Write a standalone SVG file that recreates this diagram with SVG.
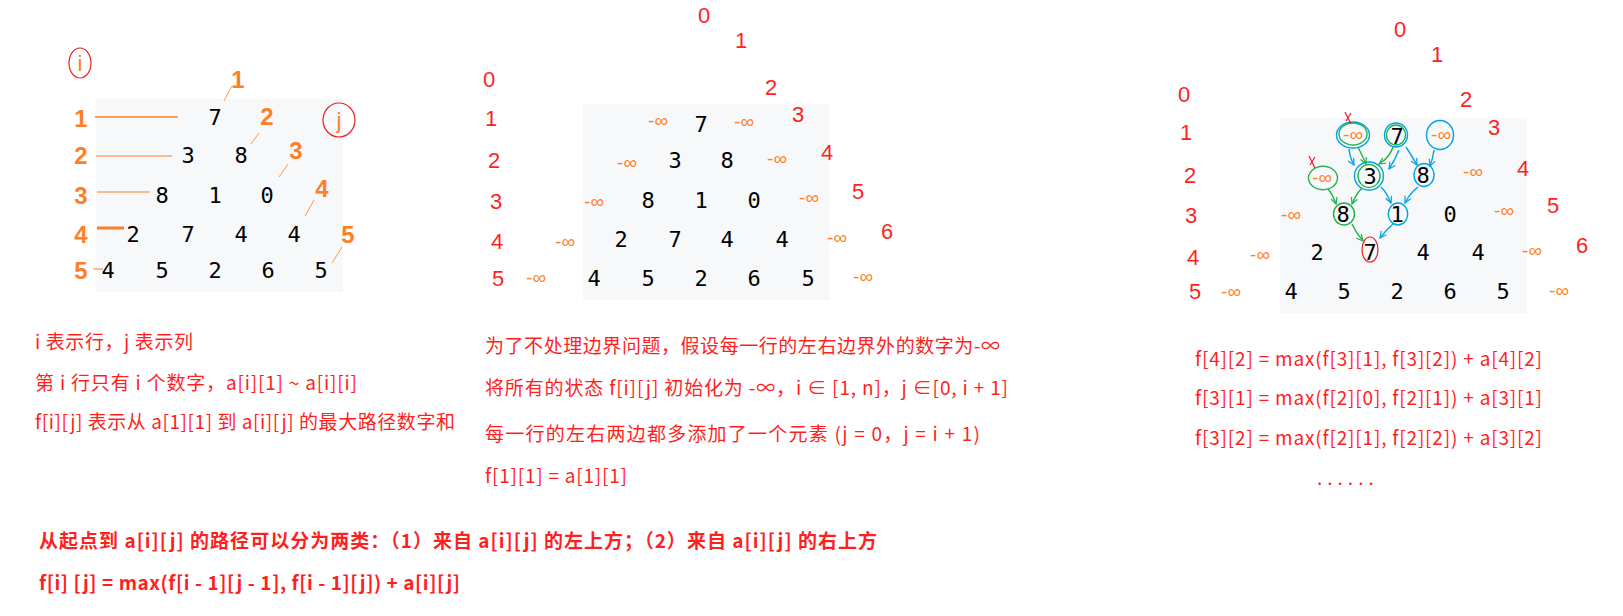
<svg xmlns="http://www.w3.org/2000/svg" width="1623" height="616" viewBox="0 0 1623 616">
<defs>
<style>
.bg{fill:#f6f8fa}
.num{font-family:"DejaVu Sans Mono",monospace;font-size:22px;fill:#000;text-anchor:middle}
.idx{font-family:"Liberation Sans",Arial,sans-serif;font-size:22px;fill:#ff1f1f;text-anchor:middle}
.inf{font-family:"Liberation Sans",Arial,sans-serif;font-size:19px;fill:#ff7f27;text-anchor:middle}
.olab{font-family:"Liberation Sans",Arial,sans-serif;font-size:24px;font-weight:bold;fill:#ff7f27;text-anchor:middle}
.txt{font-family:"Noto Sans CJK SC","Noto Sans",sans-serif;font-size:19px;fill:#ff1f1f}
.btxt{font-family:"Noto Sans CJK SC","Noto Sans",sans-serif;font-size:19px;font-weight:bold;fill:#ff1f1f}
.oline{stroke:#ff7f27;fill:none}
.blue{stroke:#00a2e8;stroke-width:1.4;fill:none}
.green{stroke:#22b14c;stroke-width:1.4;fill:none}
.redc{stroke:#ed1c24;stroke-width:1.2;fill:none}
</style>
<marker id="ab" viewBox="0 0 10 10" refX="9" refY="5" markerWidth="8" markerHeight="8" orient="auto" markerUnits="userSpaceOnUse"><path d="M1,1 L9,5 L1,9" fill="none" stroke="#00a2e8" stroke-width="1.5"/></marker>
<marker id="ag" viewBox="0 0 10 10" refX="9" refY="5" markerWidth="8" markerHeight="8" orient="auto" markerUnits="userSpaceOnUse"><path d="M1,1 L9,5 L1,9" fill="none" stroke="#22b14c" stroke-width="1.5"/></marker>
</defs>
<rect width="1623" height="616" fill="#fff"/>

<!-- Panel 1 -->
<g id="panel1">
<rect class="bg" x="96" y="99" width="247" height="193"/>
<g id="p1-i"><ellipse cx="80" cy="63" rx="11" ry="15" class="redc"/><text x="80" y="71" class="inf" style="font-size:22px">i</text></g>
<g id="p1-j"><ellipse cx="339" cy="120" rx="16" ry="17" class="redc"/><text x="339" y="128" class="inf" style="font-size:22px">j</text></g>
<text class="olab" x="81" y="127">1</text>
<text class="olab" x="81" y="164">2</text>
<text class="olab" x="81" y="204">3</text>
<text class="olab" x="81" y="243">4</text>
<text class="olab" x="81" y="279">5</text>
<line class="oline" x1="95" y1="117" x2="178" y2="117" stroke-width="1.6"/>
<line class="oline" x1="96" y1="156" x2="172" y2="156" stroke-width="1"/>
<line class="oline" x1="97" y1="192" x2="150" y2="192" stroke-width="1"/>
<line class="oline" x1="97" y1="228" x2="124" y2="228" stroke-width="3"/>
<line class="oline" x1="93" y1="269" x2="103" y2="269" stroke-width="1"/>
<text class="olab" x="238" y="88">1</text>
<text class="olab" x="267" y="125">2</text>
<text class="olab" x="296" y="159">3</text>
<text class="olab" x="322" y="197">4</text>
<text class="olab" x="348" y="243">5</text>
<line class="oline" x1="224" y1="101" x2="232" y2="86" stroke-width="0.8"/>
<line class="oline" x1="251" y1="144" x2="259" y2="133" stroke-width="0.8"/>
<line class="oline" x1="279" y1="177" x2="288" y2="164" stroke-width="0.8"/>
<line class="oline" x1="305" y1="216" x2="314" y2="200" stroke-width="0.8"/>
<line class="oline" x1="332" y1="263" x2="342" y2="247" stroke-width="0.8"/>
<text class="num" x="215" y="125">7</text>
<text class="num" x="188" y="163">3</text><text class="num" x="241" y="163">8</text>
<text class="num" x="162" y="203">8</text><text class="num" x="215" y="203">1</text><text class="num" x="267" y="203">0</text>
<text class="num" x="133" y="242">2</text><text class="num" x="188" y="242">7</text><text class="num" x="241" y="242">4</text><text class="num" x="294" y="242">4</text>
<text class="num" x="108" y="278">4</text><text class="num" x="162" y="278">5</text><text class="num" x="215" y="278">2</text><text class="num" x="268" y="278">6</text><text class="num" x="321" y="278">5</text>
<text class="txt" x="35" y="349" textLength="158">i 表示行，j 表示列</text>
<text class="txt" x="35" y="390" textLength="322">第 i 行只有 i 个数字，a[i][1] ~ a[i][i]</text>
<text class="txt" x="35" y="429" textLength="420">f[i][j] 表示从 a[1][1] 到 a[i][j] 的最大路径数字和</text>
</g>

<!-- Panel 2 -->
<g id="panel2">
<rect class="bg" x="583" y="104" width="247" height="196"/>
<text class="idx" x="704" y="23">0</text>
<text class="idx" x="741" y="48">1</text>
<text class="idx" x="771" y="95">2</text>
<text class="idx" x="798" y="122">3</text>
<text class="idx" x="827" y="160">4</text>
<text class="idx" x="858" y="199">5</text>
<text class="idx" x="887" y="239">6</text>
<text class="idx" x="489" y="87">0</text>
<text class="idx" x="491" y="126">1</text>
<text class="idx" x="494" y="168">2</text>
<text class="idx" x="496" y="209">3</text>
<text class="idx" x="497" y="249">4</text>
<text class="idx" x="498" y="286">5</text>
<text class="num" x="701" y="132">7</text>
<text class="num" x="675" y="168">3</text><text class="num" x="727" y="168">8</text>
<text class="num" x="648" y="208">8</text><text class="num" x="701" y="208">1</text><text class="num" x="754" y="208">0</text>
<text class="num" x="621" y="247">2</text><text class="num" x="675" y="247">7</text><text class="num" x="727" y="247">4</text><text class="num" x="782" y="247">4</text>
<text class="num" x="594" y="286">4</text><text class="num" x="648" y="286">5</text><text class="num" x="701" y="286">2</text><text class="num" x="754" y="286">6</text><text class="num" x="808" y="286">5</text>
<text class="inf" x="658" y="127">-∞</text><text class="inf" x="744" y="128">-∞</text>
<text class="inf" x="627" y="169">-∞</text><text class="inf" x="777" y="165">-∞</text>
<text class="inf" x="594" y="208">-∞</text><text class="inf" x="809" y="204">-∞</text>
<text class="inf" x="565" y="248">-∞</text><text class="inf" x="837" y="244">-∞</text>
<text class="inf" x="536" y="284">-∞</text><text class="inf" x="863" y="283">-∞</text>
<text class="txt" x="485" y="353" textLength="515">为了不处理边界问题，假设每一行的左右边界外的数字为-∞</text>
<text class="txt" x="485" y="395" textLength="523">将所有的状态 f[i][j] 初始化为 -∞，i ∈ [1, n]，j ∈[0, i + 1]</text>
<text class="txt" x="485" y="441" textLength="495">每一行的左右两边都多添加了一个元素 (j = 0，j = i + 1)</text>
<text class="txt" x="485" y="483" textLength="142">f[1][1] = a[1][1]</text>
</g>

<!-- Panel 3 -->
<g id="panel3">
<rect class="bg" x="1280" y="118" width="247" height="195"/>
<text class="idx" x="1400" y="37">0</text>
<text class="idx" x="1437" y="62">1</text>
<text class="idx" x="1466" y="107">2</text>
<text class="idx" x="1494" y="135">3</text>
<text class="idx" x="1523" y="176">4</text>
<text class="idx" x="1553" y="213">5</text>
<text class="idx" x="1582" y="253">6</text>
<text class="idx" x="1184" y="102">0</text>
<text class="idx" x="1186" y="140">1</text>
<text class="idx" x="1190" y="183">2</text>
<text class="idx" x="1191" y="223">3</text>
<text class="idx" x="1193" y="265">4</text>
<text class="idx" x="1195" y="299">5</text>
<text class="num" x="1423" y="183">8</text>
<text class="num" x="1450" y="222">0</text>
<text class="num" x="1317" y="260">2</text><text class="num" x="1423" y="260">4</text><text class="num" x="1478" y="260">4</text>
<text class="num" x="1291" y="299">4</text><text class="num" x="1344" y="299">5</text><text class="num" x="1397" y="299">2</text><text class="num" x="1450" y="299">6</text><text class="num" x="1503" y="299">5</text>
<text class="inf" x="1473" y="178">-∞</text>
<text class="inf" x="1291" y="221">-∞</text><text class="inf" x="1504" y="217">-∞</text>
<text class="inf" x="1260" y="261">-∞</text><text class="inf" x="1532" y="257">-∞</text>
<text class="inf" x="1231" y="298">-∞</text><text class="inf" x="1559" y="297">-∞</text>

<g id="n-inf-1-0"><ellipse cx="1353" cy="135" rx="16.5" ry="13" class="blue"/><ellipse cx="1353" cy="134" rx="14" ry="11" class="green"/><text class="inf" x="1353" y="141">-∞</text></g>
<g id="n-7-1-1"><ellipse cx="1396" cy="135" rx="11.5" ry="12" class="blue"/><ellipse cx="1396" cy="135" rx="9.5" ry="10" class="green"/><text class="num" x="1397" y="144">7</text></g>
<g id="n-inf-1-2"><ellipse cx="1440" cy="135" rx="13.5" ry="14.5" class="blue"/><text class="inf" x="1441" y="141">-∞</text></g>
<g id="n-inf-2-0"><ellipse cx="1323" cy="178" rx="14.5" ry="11.7" class="green"/><text class="inf" x="1322" y="184">-∞</text></g>
<g id="n-3-2-1"><ellipse cx="1369" cy="176" rx="14.5" ry="14" class="blue"/><ellipse cx="1369" cy="176" rx="11" ry="11.5" class="green"/><text class="num" x="1370" y="184">3</text></g>
<g id="n-8-2-2"><ellipse cx="1424" cy="175" rx="10" ry="11.5" class="blue"/></g>
<g id="n-8-3-1"><ellipse cx="1344" cy="214" rx="10.5" ry="11" class="green"/><text class="num" x="1343" y="222">8</text></g>
<g id="n-1-3-2"><ellipse cx="1398" cy="214" rx="9.7" ry="11" class="blue"/><text class="num" x="1397" y="222">1</text></g>
<g id="n-7-4-2"><ellipse cx="1370" cy="249.5" rx="8" ry="12.5" class="redc"/><text class="num" x="1370" y="260">7</text></g>
<g id="marks" stroke="#ed1c24" stroke-width="1.2" fill="none">
<path d="M1345,112 L1351,124 M1351,113 L1346,121"/>
<path d="M1309,156 L1315,168 M1315,157 L1310,165"/>
</g>
<text class="txt" x="1195" y="366" textLength="347">f[4][2] = max(f[3][1], f[3][2]) + a[4][2]</text>
<text class="txt" x="1195" y="405" textLength="347">f[3][1] = max(f[2][0], f[2][1]) + a[3][1]</text>
<text class="txt" x="1195" y="445" textLength="347">f[3][2] = max(f[2][1], f[2][2]) + a[3][2]</text>
<text class="txt" x="1317" y="485" style="letter-spacing:5px">......</text>
</g>

<g id="connectors">
<path class="blue" d="M1349,149 Q1350,158 1354,165" marker-end="url(#ab)"/>
<path class="blue" d="M1399,150 Q1395,160 1389,169" marker-end="url(#ab)"/>
<path class="blue" d="M1406,147 Q1412,156 1417,165" marker-end="url(#ab)"/>
<path class="blue" d="M1434,150 Q1433,158 1430,166" marker-end="url(#ab)"/>
<path class="blue" d="M1381,187 Q1387,193 1391,203" marker-end="url(#ab)"/>
<path class="blue" d="M1418,187 Q1410,193 1405,203" marker-end="url(#ab)"/>
<path class="blue" d="M1393,224 Q1386,230 1380,238" marker-end="url(#ab)"/>
<path class="green" d="M1358,147 Q1362,155 1366,164" marker-end="url(#ag)"/>
<path class="green" d="M1393,147 Q1390,157 1379,164" marker-end="url(#ag)"/>
<path class="green" d="M1328,189 Q1333,195 1336,204" marker-end="url(#ag)"/>
<path class="green" d="M1362,188 Q1356,194 1352,204" marker-end="url(#ag)"/>
<path class="green" d="M1352,224 Q1356,233 1363,241" marker-end="url(#ag)"/>
</g>

<g id="bottom">
<text class="btxt" x="39" y="548" textLength="838">从起点到 a[i][j] 的路径可以分为两类：（1）来自 a[i][j] 的左上方；（2）来自 a[i][j] 的右上方</text>
<text class="btxt" x="39" y="590" textLength="421">f[i] [j] = max(f[i - 1][j - 1], f[i - 1][j]) + a[i][j]</text>
</g>
</svg>
